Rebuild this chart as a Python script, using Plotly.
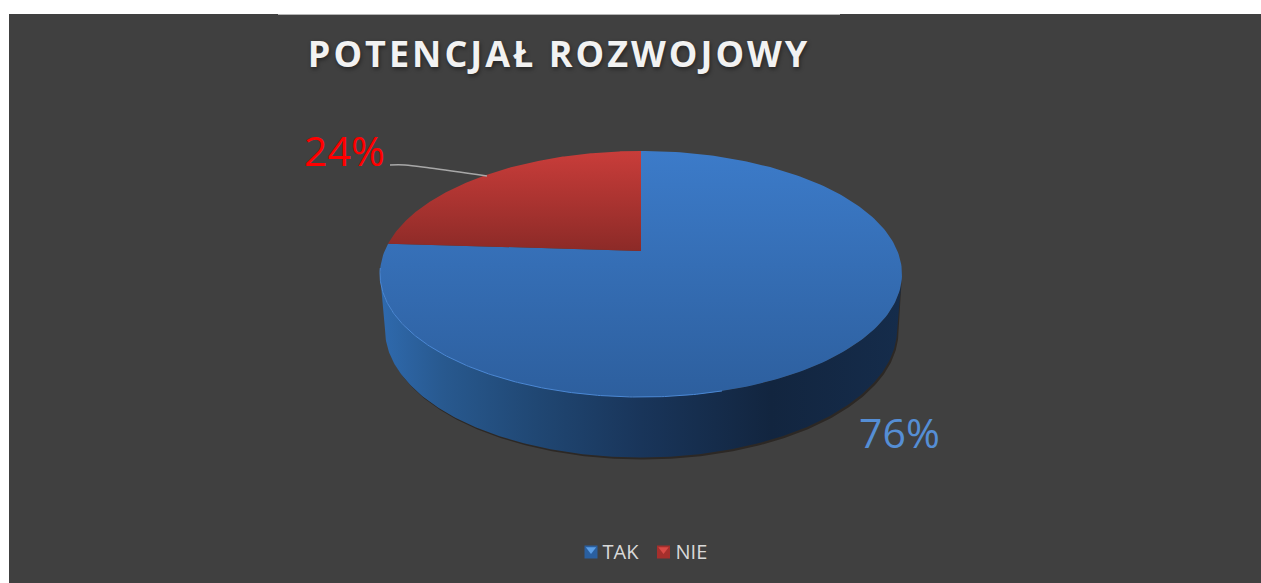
import numpy as np
import plotly.graph_objects as go

categories = ["TAK", "NIE"]
values = [76, 24]
title_text = "POTENCJAŁ ROZWOJOWY"

BLUE_TOP = [[0, "#3c7bc9"], [1, "#2d5f9e"]]
RED_TOP = [[0, "#c93d3a"], [1, "#8c2a27"]]
WALL = [[0, "#2f6aae"], [0.12, "#28598f"], [0.3, "#204773"], [0.5, "#19355a"],
        [0.75, "#12253f"], [1, "#152c4b"]]
SHADOW = [[0, "#2c2825"], [1, "#2c2825"]]

CX, TOP_Y, TIP_Y, RIM_Y = 641, 151, 251, 397
C = 0.187
A = -71.8
K = 256.4


def rim(t_deg):
    """Perspective projection of a unit circle; angle clockwise from the top."""
    t = np.radians(t_deg)
    ux, uy = np.sin(t), np.cos(t)
    d = C * uy + 1
    return CX + K * ux / d, (A * uy + TIP_Y) / d


def slice_path(start, end):
    t = np.linspace(start, end, 240)
    x, y = rim(t)
    return np.r_[CX, x, CX], np.r_[TIP_Y, y, TIP_Y]


fig = go.Figure()

# Side wall of the disc, and its shadow
rx, ry = rim(np.linspace(100.8, 259.2, 240))
lower = np.radians(np.linspace(90, 270, 240))
low_x = CX + 256 * np.sin(lower)
low_y = 329.5 - 128 * np.cos(lower)
fig.add_trace(go.Scatter(x=np.r_[rx, low_x[::-1] + 1.5, rx[0]], y=np.r_[ry, low_y[::-1] + 2, ry[0]],
                         mode="lines", fill="toself",
                         fillgradient=dict(type="horizontal", colorscale=SHADOW, start=380, stop=902),
                         line=dict(width=0), hoverinfo="skip", showlegend=False))
fig.add_trace(go.Scatter(x=np.r_[rx, low_x[::-1], rx[0]], y=np.r_[ry, low_y[::-1], ry[0]],
                         mode="lines", fill="toself",
                         fillgradient=dict(type="horizontal", colorscale=WALL, start=380, stop=902),
                         line=dict(width=0), hoverinfo="skip", showlegend=False))

# Slices, sized from the values: the first starts at 12 o'clock and runs clockwise
total = sum(values)
angles = np.cumsum([0] + values) / total * 360
x0, y0 = slice_path(angles[0], angles[1])
fig.add_trace(go.Scatter(x=x0, y=y0, mode="lines", fill="toself", name=categories[0],
                         fillgradient=dict(type="vertical", colorscale=BLUE_TOP, start=TOP_Y, stop=RIM_Y),
                         line=dict(width=0), hoverinfo="skip", showlegend=False))
x1, y1 = slice_path(angles[1], angles[2])
fig.add_trace(go.Scatter(x=x1, y=y1, mode="lines", fill="toself", name=categories[1],
                         fillgradient=dict(type="vertical", colorscale=RED_TOP, start=TOP_Y, stop=TIP_Y),
                         line=dict(width=0), hoverinfo="skip", showlegend=False))

# Bright rim on the front edge
hx, hy = rim(np.linspace(165, 262, 200))
fig.add_trace(go.Scatter(x=hx, y=hy, mode="lines", line=dict(color="#4a88d6", width=1),
                         hoverinfo="skip", showlegend=False))

# Leader line and data labels
fig.add_trace(go.Scatter(x=[390, 405, 430, 487], y=[165, 165, 168, 176], mode="lines",
                         line=dict(color="#a8a8a8", width=1.5, shape="spline"),
                         hoverinfo="skip", showlegend=False))
fig.add_trace(go.Scatter(x=[899.5, 344.5], y=[438, 156], mode="text",
                         text=[f"{v}%" for v in values], textposition="middle center",
                         textfont=dict(family="Open Sans", size=41, color=["#558ed5", "#ff0000"]),
                         hoverinfo="skip", showlegend=False))

# Legend: bevelled square keys and their labels
key_x = [591, 663.5]
fig.add_trace(go.Scatter(x=key_x, y=[552, 552], mode="markers",
                         marker=dict(symbol="square", size=13, color=["#2a5f9f", "#a52f2c"]),
                         hoverinfo="skip", showlegend=False))
fig.add_trace(go.Scatter(x=key_x, y=[549.5, 549.5], mode="markers",
                         marker=dict(symbol="triangle-down", size=9, color=["#5b9ee6", "#d94a46"]),
                         hoverinfo="skip", showlegend=False))
fig.add_trace(go.Scatter(x=[602.5, 675.5], y=[553.5, 553.5], mode="text", text=categories,
                         textposition="middle right",
                         textfont=dict(family="Open Sans", size=20, color="#d9d9d9"),
                         hoverinfo="skip", showlegend=False))

fig.update_layout(
    width=1261, height=583,
    margin=dict(l=9, r=0, t=14, b=0, pad=0),
    paper_bgcolor="#ffffff", plot_bgcolor="#404040",
    title=dict(text=title_text, x=301 / 1261, xanchor="left", xref="paper",
               y=1 - 41.5 / 583, yanchor="middle", yref="paper",
               font=dict(family="Open Sans", size=36, weight="bold", color="#f2f2f2",
                         shadow="1px 2px 4px rgba(0,0,0,0.45)")),
    xaxis=dict(range=[9, 1261], visible=False, fixedrange=True),
    yaxis=dict(range=[583, 14], visible=False, fixedrange=True),
    shapes=[dict(type="line", xref="x", yref="y", x0=278, x1=840, y0=14.5, y1=14.5,
                 line=dict(color="#b5b5b5", width=1))],
)

post = """
var s=document.createElement('style');
s.textContent='body{margin:0;padding:0}.gtitle{letter-spacing:3px}';
document.head.appendChild(s);
"""
fig.write_html("out.html", post_script=post, config=dict(displayModeBar=False))
